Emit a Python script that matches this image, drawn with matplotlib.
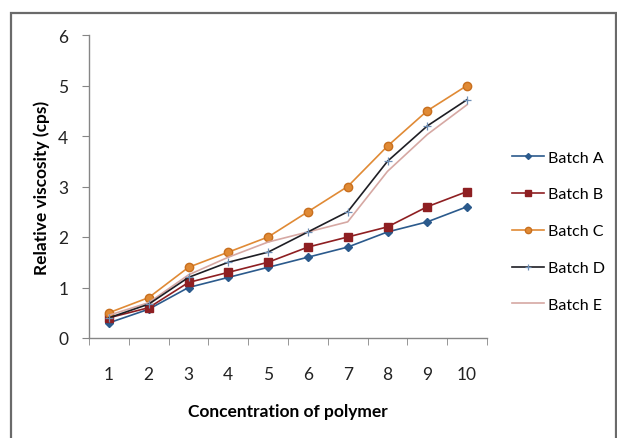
import matplotlib
matplotlib.use("Agg")
import matplotlib.pyplot as plt
from matplotlib.patches import Rectangle

plt.rcParams['font.family'] = ['Lato', 'DejaVu Sans']

concentration = [1, 2, 3, 4, 5, 6, 7, 8, 9, 10]
batch_a = [0.3, 0.57, 1.0, 1.2, 1.4, 1.6, 1.8, 2.1, 2.3, 2.6]
batch_b = [0.4, 0.6, 1.1, 1.3, 1.5, 1.8, 2.0, 2.2, 2.6, 2.9]
batch_c = [0.5, 0.8, 1.4, 1.7, 2.0, 2.5, 3.0, 3.8, 4.5, 5.0]
batch_d = [0.4, 0.67, 1.2, 1.5, 1.7, 2.1, 2.5, 3.5, 4.2, 4.72]
batch_e = [0.45, 0.7, 1.25, 1.6, 1.9, 2.1, 2.3, 3.3, 4.03, 4.62]
yticks = [0, 1, 2, 3, 4, 5, 6]

fig = plt.figure(figsize=(6.17, 4.39), dpi=100)
ax = fig.add_axes([89 / 617, 100 / 439, 398 / 617, 303 / 439])

ax.plot(concentration, batch_a, color='#2B5A8C', lw=1.2, marker='D', ms=4, label='Batch A')
ax.plot(concentration, batch_b, color='#8E1F22', lw=1.2, marker='s', ms=5.5, label='Batch B')
ax.plot(concentration, batch_c, color='#E08A35', lw=1.2, marker='o', ms=6,
        markeredgecolor='#C86F1E', label='Batch C')
ax.plot(concentration, batch_e, color='#D6A8A3', lw=1.2, label='Batch E', zorder=2)
ax.plot(concentration, batch_d, color='#1E1E24', lw=1.2, marker='+', ms=6,
        markeredgecolor='#6F8FB5', markeredgewidth=0.9, label='Batch D', zorder=3)

ax.set_xlim(0.5, 10.5)
ax.set_ylim(0, 6)
ax.set_xticks(concentration)
ax.set_xticks([c - 0.5 for c in concentration] + [concentration[-1] + 0.5], minor=True)
ax.set_yticks(yticks)
ax.tick_params(axis='x', which='major', length=0, pad=20, labelsize=12.5, colors='#222222')
ax.tick_params(axis='x', which='minor', length=5, direction='out', color='#868686')
ax.tick_params(axis='y', which='major', length=5, direction='out', color='#868686',
               pad=10, labelsize=12.5, labelcolor='#222222')

for side in ('top', 'right'):
    ax.spines[side].set_visible(False)
for side in ('left', 'bottom'):
    ax.spines[side].set_color('#868686')
    ax.spines[side].set_linewidth(1.0)

ax.set_xlabel('Concentration of polymer', fontsize=12.5, fontweight='bold', labelpad=15)
ax.set_ylabel('Relative viscosity (cps)', fontsize=12.5, fontweight='bold', labelpad=6)

handles, labels = ax.get_legend_handles_labels()
order = ['Batch A', 'Batch B', 'Batch C', 'Batch D', 'Batch E']
idx = [labels.index(o) for o in order]
leg = fig.legend([handles[i] for i in idx], order, loc='upper left',
                 bbox_to_anchor=(498 / 617, 1 - 137 / 439), frameon=False,
                 fontsize=11.5, handlelength=2.0, handletextpad=0.2,
                 labelspacing=1.42, markerscale=0.75)

# outer frame around the chart
fig.patches.append(Rectangle((11 / 617, -0.05), 605 / 617, 1.05 - 14 / 439,
                             transform=fig.transFigure, fill=False,
                             edgecolor='#6A6A6A', linewidth=1.6))

fig.savefig('out.png', dpi=100)
